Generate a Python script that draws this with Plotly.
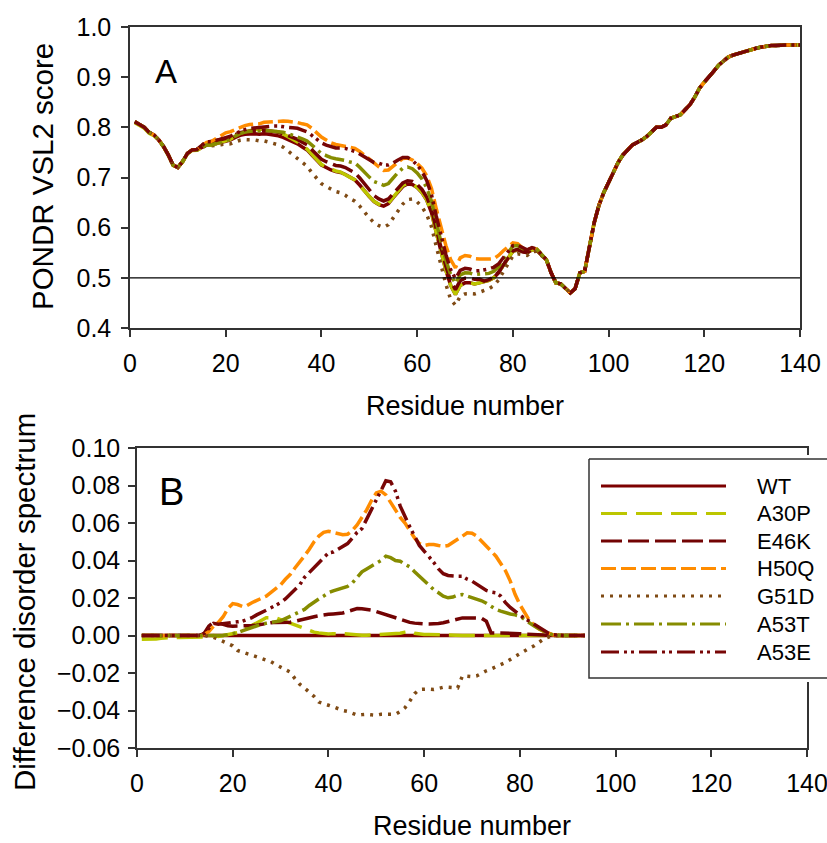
import plotly.graph_objects as go

# ---------------- data ----------------
RESIDUES = list(range(1, 141))

# PONDR VSL2 score of wild-type alpha-synuclein (residues 1..140)
WT_SCORE = [
    0.811, 0.805, 0.800, 0.790, 0.785, 0.775, 0.762, 0.745, 0.725, 0.720,
    0.732, 0.748, 0.755, 0.755, 0.760, 0.765, 0.765, 0.768, 0.770, 0.772,
    0.775, 0.780, 0.784, 0.786, 0.787, 0.787, 0.786, 0.787, 0.786, 0.785,
    0.783, 0.780, 0.776, 0.772, 0.767, 0.761, 0.755, 0.745, 0.735, 0.725,
    0.720, 0.715, 0.712, 0.710, 0.706, 0.700, 0.695, 0.685, 0.673, 0.662,
    0.652, 0.646, 0.643, 0.648, 0.660, 0.672, 0.682, 0.687, 0.686, 0.680,
    0.670, 0.655, 0.630, 0.590, 0.550, 0.515, 0.485, 0.467, 0.485, 0.490,
    0.490, 0.488, 0.490, 0.492, 0.495, 0.500, 0.510, 0.525, 0.540, 0.553,
    0.556, 0.552, 0.550, 0.556, 0.555, 0.545, 0.536, 0.510, 0.490, 0.488,
    0.480, 0.470, 0.478, 0.510, 0.513, 0.560, 0.610, 0.645, 0.670, 0.690,
    0.710, 0.730, 0.745, 0.755, 0.765, 0.770, 0.775, 0.782, 0.792, 0.800,
    0.800, 0.805, 0.818, 0.821, 0.825, 0.835, 0.845, 0.860, 0.878, 0.890,
    0.900, 0.912, 0.924, 0.932, 0.940, 0.944, 0.947, 0.950, 0.953, 0.956,
    0.958, 0.960, 0.962, 0.963, 0.963, 0.964, 0.964, 0.964, 0.964, 0.964,
]

# Difference disorder spectra (mutant - WT), residues 1..90; zero beyond residue 90
DIFF_A30P = [
    -0.002, -0.002, -0.002, -0.0018, -0.0015, -0.0012, -0.001, -0.001, -0.001, -0.001,
    -0.001, -0.001, -0.001, -0.0008, -0.0005, 0.0, -0.0005, 0.0, 0.0005, 0.001,
    0.0015, 0.0025, 0.004, 0.005, 0.0065, 0.0085, 0.0095, 0.0095, 0.0094, 0.0085,
    0.0075, 0.0068, 0.0055, 0.0045, 0.0036, 0.0025, 0.0018, 0.0014, 0.001, 0.0008,
    0.001, 0.0012, 0.001, 0.0008, 0.0005, 0.0003, 0.0002, 0.0002, 0.0003, 0.0003,
    0.0005, 0.0006, 0.0008, 0.0008, 0.0012, 0.0018, 0.0023, 0.0012, 0.0008, 0.0006,
    0.0005, 0.0004, 0.0003, 0.0, 0.0, 0.0, 0.0, 0.0, 0.0, 0.0,
    0.0, 0.0, 0.0, 0.0, 0.0, 0.0, 0.0, 0.0, 0.0, 0.0,
    0.0, 0.0, 0.0, 0.0, 0.0, 0.0, 0.0, 0.0, 0.0, 0.0,
]
DIFF_E46K = [
    0.0, 0.0, 0.0, 0.0, 0.0, 0.0, 0.0, 0.0, 0.0, 0.0,
    0.0, 0.0, 0.0, 0.001, 0.005, 0.007, 0.0068, 0.006, 0.0052, 0.005,
    0.005, 0.0052, 0.0053, 0.0053, 0.0055, 0.006, 0.0065, 0.0068, 0.007, 0.007,
    0.0071, 0.0071, 0.0076, 0.0083, 0.009, 0.0094, 0.010, 0.0105, 0.011, 0.0113,
    0.0115, 0.0118, 0.012, 0.0128, 0.0138, 0.0144, 0.0143, 0.014, 0.0135, 0.0128,
    0.012, 0.0112, 0.0102, 0.0093, 0.0085, 0.0078, 0.007, 0.0066, 0.0063, 0.0062,
    0.0062, 0.0062, 0.0064, 0.0068, 0.0075, 0.0082, 0.009, 0.0094, 0.0094, 0.0094,
    0.0094, 0.0092, 0.0076, 0.0014, 0.0014, 0.0014, 0.0012, 0.0012, 0.001, 0.001,
    0.0008, 0.0006, 0.0004, 0.0002, 0.0, 0.0, 0.0, 0.0, 0.0, 0.0,
]
DIFF_H50Q = [
    0.0, 0.0, 0.0, 0.0, 0.0, 0.0, 0.0, 0.0, 0.0, 0.0,
    0.0, 0.0, 0.0, 0.0005, 0.002, 0.005, 0.007, 0.010, 0.0145, 0.017,
    0.0165, 0.0155, 0.016, 0.0175, 0.0185, 0.0195, 0.021, 0.023, 0.025, 0.027,
    0.030, 0.0325, 0.036, 0.039, 0.0425, 0.046, 0.050, 0.053, 0.055, 0.0556,
    0.055, 0.054, 0.0538, 0.054, 0.056, 0.059, 0.063, 0.067, 0.072, 0.076,
    0.077, 0.075, 0.071, 0.067, 0.063, 0.060, 0.056, 0.052, 0.049, 0.048,
    0.0485, 0.0485, 0.048, 0.0476, 0.048, 0.0495, 0.0515, 0.053, 0.0548, 0.0545,
    0.053, 0.0505, 0.0476, 0.045, 0.0423, 0.038, 0.0345, 0.029, 0.022, 0.0165,
    0.012, 0.008, 0.0055, 0.0035, 0.0022, 0.001, 0.0003, 0.0, 0.0, 0.0,
]
DIFF_G51D = [
    0.0, 0.0, 0.0, 0.0, 0.0, 0.0, 0.0, 0.0, 0.0, 0.0,
    0.0, 0.0, 0.0, 0.0, -0.0005, -0.001, -0.002, -0.003, -0.0045, -0.0055,
    -0.008, -0.009, -0.0097, -0.0105, -0.0113, -0.012, -0.013, -0.014, -0.0155, -0.017,
    -0.018, -0.0195, -0.023, -0.026, -0.028, -0.030, -0.0325, -0.0355, -0.0365, -0.0372,
    -0.038, -0.039, -0.040, -0.0405, -0.0415, -0.0425, -0.0422, -0.042, -0.0423, -0.0425,
    -0.042, -0.042, -0.0423, -0.042, -0.0405, -0.0385, -0.035, -0.031, -0.0288, -0.0285,
    -0.0285, -0.0288, -0.0282, -0.0276, -0.0276, -0.0277, -0.028, -0.0215, -0.0218, -0.022,
    -0.0215, -0.020, -0.0188, -0.0178, -0.0168, -0.0157, -0.0144, -0.0128, -0.0112, -0.0096,
    -0.0082, -0.0067, -0.0055, -0.0038, -0.0018, -0.0008, -0.0002, 0.0, 0.0, 0.0,
]
DIFF_A53T = [
    0.0, 0.0, 0.0, 0.0, 0.0, 0.0, 0.0, 0.0, 0.0, 0.0,
    0.0, 0.0, 0.0, 0.0, 0.0, 0.0, 0.0, 0.0, 0.0005, 0.001,
    0.0015, 0.0025, 0.0035, 0.0045, 0.0052, 0.006, 0.0065, 0.0068, 0.0072, 0.0078,
    0.009, 0.0103, 0.0115, 0.0125, 0.0139, 0.016, 0.018, 0.0195, 0.021, 0.0228,
    0.0238, 0.0245, 0.0255, 0.0262, 0.028, 0.031, 0.034, 0.0355, 0.037, 0.0388,
    0.040, 0.0423, 0.0415, 0.040, 0.0396, 0.038, 0.0366, 0.034, 0.0315, 0.029,
    0.027, 0.0245, 0.0228, 0.021, 0.0201, 0.0205, 0.0215, 0.0219, 0.021, 0.0201,
    0.0195, 0.0185, 0.0172, 0.0155, 0.0139, 0.013, 0.012, 0.0115, 0.011, 0.0103,
    0.0085, 0.0065, 0.005, 0.0036, 0.0022, 0.001, 0.0003, 0.0, 0.0, 0.0,
]
DIFF_A53E = [
    0.0, 0.0, 0.0, 0.0, 0.0, 0.0, 0.0, 0.0, 0.0, 0.0,
    0.0, 0.0, 0.0, 0.001, 0.004, 0.0065, 0.006, 0.0062, 0.0068, 0.007,
    0.0073, 0.0076, 0.0085, 0.0095, 0.011, 0.012, 0.0135, 0.0148, 0.016, 0.0175,
    0.0195, 0.022, 0.024, 0.027, 0.031, 0.0334, 0.036, 0.0388, 0.0415, 0.044,
    0.0445, 0.046, 0.047, 0.049, 0.052, 0.055, 0.057, 0.062, 0.068, 0.0725,
    0.078, 0.0825, 0.082, 0.077, 0.069, 0.063, 0.058, 0.053, 0.048, 0.045,
    0.0423, 0.039, 0.0355, 0.033, 0.032, 0.0316, 0.0316, 0.0316, 0.030, 0.029,
    0.0275, 0.0258, 0.024, 0.0232, 0.0228, 0.021, 0.0175, 0.015, 0.013, 0.0112,
    0.009, 0.0076, 0.006, 0.0041, 0.0025, 0.0012, 0.0004, 0.0, 0.0, 0.0,
]
DIFF_WT = [0.0] * 90

SERIES = ["WT", "A30P", "E46K", "H50Q", "G51D", "A53T", "A53E"]
DIFFS = {"WT": DIFF_WT, "A30P": DIFF_A30P, "E46K": DIFF_E46K, "H50Q": DIFF_H50Q,
         "G51D": DIFF_G51D, "A53T": DIFF_A53T, "A53E": DIFF_A53E}

X_TITLE = "Residue number"
Y_TITLE_A = "PONDR VSL2 score"
Y_TITLE_B = "Difference disorder spectrum"

# ---------------- styles ----------------
COLORS = {"WT": "#7d0000", "A30P": "#bcc600", "E46K": "#720303", "H50Q": "#ff8c00",
          "G51D": "#7f4a14", "A53T": "#868c00", "A53E": "#780606"}
DASHES = {"WT": "solid", "A30P": "26px,9px", "E46K": "21px,6px", "H50Q": "15px,5px",
          "G51D": "3px,6px", "A53T": "20px,5px,3px,5px", "A53E": "18px,5px,3px,4px,3px,5px"}

FONT = "Liberation Sans, Arial, sans-serif"
W, H = 827, 843


def px_x(p):
    return p / W


def px_y(p):
    return 1 - p / H


fig = go.Figure()

for name in SERIES:
    d = DIFFS[name] + [0.0] * (len(RESIDUES) - len(DIFFS[name]))
    score = [round(w + v, 4) for w, v in zip(WT_SCORE, d)]
    style = dict(color=COLORS[name], width=3.5, dash=DASHES[name])
    fig.add_trace(go.Scatter(x=RESIDUES, y=score, mode="lines", line=style,
                             name=name, showlegend=False, xaxis="x", yaxis="y"))
    fig.add_trace(go.Scatter(x=RESIDUES, y=d, mode="lines", line=style,
                             name=name, showlegend=False, xaxis="x2", yaxis="y2"))

# ---- custom legend (sub-plot overlaying panel B) ----
LEG_Y = [486, 513.5, 541, 568.5, 596, 624, 652]
fig.add_trace(go.Scatter(x=[589, 900, 900, 589, 589], y=[459, 459, 678, 678, 459],
                         mode="lines", fill="toself", fillcolor="white",
                         line=dict(color="#333333", width=1.5),
                         showlegend=False, hoverinfo="skip", xaxis="x3", yaxis="y3"))
for name, yy in zip(SERIES, LEG_Y):
    fig.add_trace(go.Scatter(x=[601, 726], y=[yy, yy], mode="lines",
                             line=dict(color=COLORS[name], width=3, dash=DASHES[name]),
                             showlegend=False, hoverinfo="skip", xaxis="x3", yaxis="y3"))
    fig.add_annotation(x=755, y=yy, xref="x3", yref="y3", text=name, showarrow=False,
                       xanchor="left", yanchor="middle",
                       font=dict(family=FONT, size=22, color="black"))

axis_common = dict(showgrid=False, zeroline=False, showline=True, linecolor="#333333",
                   linewidth=1.5, mirror=True, ticks="outside", ticklen=7,
                   tickcolor="#333333", tickwidth=1.5, automargin=False,
                   ticklabeloverflow="allow",
                   tickfont=dict(family=FONT, size=25, color="black"))

fig.update_layout(
    width=W, height=H, autosize=False,
    margin=dict(l=0, r=0, t=0, b=0, pad=0),
    paper_bgcolor="white", plot_bgcolor="white",
    xaxis=dict(domain=[px_x(130), px_x(800)], range=[0, 140], dtick=20, anchor="y",
               ticklabelstandoff=5, **axis_common),
    yaxis=dict(domain=[px_y(328), px_y(27)], range=[0.4, 1.0], dtick=0.1, tickformat=".1f",
               anchor="x", ticklabelstandoff=5, **axis_common),
    xaxis2=dict(domain=[px_x(137), px_x(807)], range=[0, 140], dtick=20, anchor="y2",
                ticklabelstandoff=5, **axis_common),
    yaxis2=dict(domain=[px_y(748), px_y(448)], range=[-0.06, 0.10], dtick=0.02,
                tickformat=".2f", anchor="x2", ticklabelstandoff=3, **axis_common),
    xaxis3=dict(domain=[px_x(585), 1.0], range=[585, 827], visible=False, anchor="y3",
                fixedrange=True, automargin=False),
    yaxis3=dict(domain=[px_y(682), px_y(455)], range=[682, 455], visible=False,
                anchor="x3", fixedrange=True, automargin=False),
    shapes=[dict(type="line", xref="x", yref="y", x0=0, x1=140, y0=0.5, y1=0.5,
                 line=dict(color="black", width=1.2))],
)

# axis titles
title_specs = [
    (X_TITLE, 465, 406, 0, 27),
    (X_TITLE, 472, 826, 0, 27),
    (Y_TITLE_A, 42, 177, -90, 29.5),
    (Y_TITLE_B, 24, 602, -90, 29.5),
]
for txt, xp, yp, ang, fs in title_specs:
    fig.add_annotation(x=px_x(xp), y=px_y(yp), xref="paper", yref="paper", text=txt,
                       showarrow=False, xanchor="center", yanchor="middle", textangle=ang,
                       font=dict(family=FONT, size=fs, color="black"))

fig.add_annotation(x=px_x(166), y=px_y(71), xref="paper", yref="paper", text="A",
                   showarrow=False, xanchor="center", yanchor="middle",
                   font=dict(family=FONT, size=33, color="black"))
fig.add_annotation(x=px_x(171), y=px_y(492), xref="paper", yref="paper", text="B",
                   showarrow=False, xanchor="center", yanchor="middle",
                   font=dict(family=FONT, size=38, color="black"))

fig.write_html("out.html")
